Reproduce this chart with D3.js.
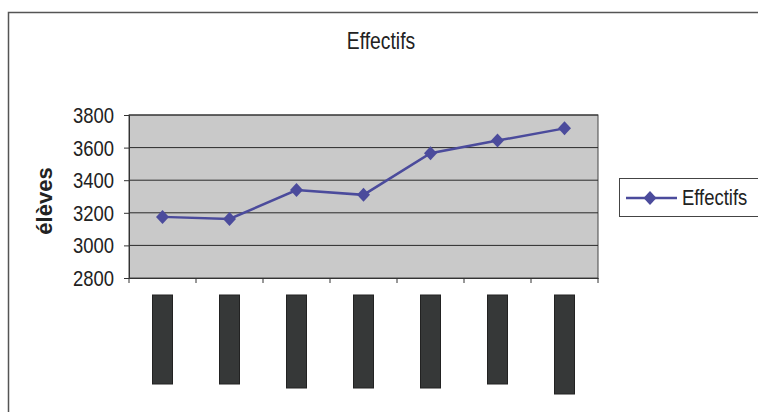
<!DOCTYPE html>
<html><head><meta charset="utf-8">
<script src="https://cdn.jsdelivr.net/npm/d3@7"></script>
<style>body{margin:0;background:#fff}svg{display:block}</style>
</head><body>
<script>
const categories = ["c1","c2","c3","c4","c5","c6","c7"];
const values = [3175, 3162, 3340, 3310, 3565, 3643, 3718];
const yTicks = [2800, 3000, 3200, 3400, 3600, 3800];
const seriesName = "Effectifs";
const titleText = "Effectifs";
const yLabel = "élèves";

const W = 758, H = 412;
const svg = d3.select("body").append("svg").attr("width", W).attr("height", H);
const font = "'Liberation Sans', Arial, sans-serif";
const SX = 0.84; // horizontal squeeze of the scanned lettering

function narrowText(parent, str, px, py, size, anchor) {
  const g = parent.append("g").attr("transform", `translate(${px},${py}) scale(${SX},1)`);
  return g.append("text").text(str).attr("text-anchor", anchor || "start")
    .attr("font-family", font).attr("font-size", size).attr("fill", "#222");
}

// outer chart border
svg.append("rect").attr("x", 8.5).attr("y", 12.5).attr("width", W + 10).attr("height", H + 10)
  .attr("fill", "#fff").attr("stroke", "#555").attr("stroke-width", 1.5);

const plot = {l: 129, t: 115, r: 598, b: 278};
const x = d3.scaleBand().domain(categories).range([plot.l, plot.r]);
const y = d3.scaleLinear().domain([2800, 3800]).range([plot.b, plot.t]);

svg.append("rect").attr("x", plot.l).attr("y", plot.t).attr("width", plot.r - plot.l).attr("height", plot.b - plot.t)
  .attr("fill", "#c9c9c9").attr("stroke", "#444").attr("stroke-width", 1);

// gridlines
svg.append("g").selectAll("line").data(yTicks.slice(1)).join("line")
  .attr("x1", plot.l).attr("x2", plot.r).attr("y1", d => y(d)).attr("y2", d => y(d))
  .attr("stroke", "#2a2a2a").attr("stroke-width", 1);

// y axis
const yAxis = svg.append("g").attr("transform", `translate(${plot.l},0)`)
  .call(d3.axisLeft(y).tickValues(yTicks).tickSize(5).tickFormat(""));
yAxis.select(".domain").attr("stroke", "#333");
yAxis.selectAll(".tick line").attr("stroke", "#333");
const fmt = d3.format("d");
yTicks.forEach(t => narrowText(svg, fmt(t), 114, y(t) + 8, 22, "end"));

// x axis
const xAxis = svg.append("g").attr("transform", `translate(0,${plot.b})`)
  .call(d3.axisBottom(x).tickSize(0).tickFormat(""));
xAxis.select(".domain").attr("stroke", "#333");
svg.append("g").selectAll("line").data(categories.concat(["__end"])).join("line")
  .attr("x1", (d, i) => plot.l + i * x.step()).attr("x2", (d, i) => plot.l + i * x.step())
  .attr("y1", plot.b).attr("y2", plot.b + 5).attr("stroke", "#333");

// category labels (obscured in the reference as dark blocks)
const lab = svg.append("g").selectAll("g").data(categories).join("g")
  .attr("transform", d => `translate(${x(d) + x.bandwidth() / 2},295)`);
lab.append("rect").attr("x", -10).attr("y", 0).attr("width", 20)
  .attr("height", (d, i) => i === 6 ? 99 : (i === 0 || i === 1 || i === 5 ? 89 : 93))
  .attr("fill", "#363838").attr("stroke", "#222");
lab.append("text").text(d => d).attr("transform", "rotate(-90)").attr("x", -45).attr("y", 6)
  .attr("text-anchor", "middle").attr("font-family", font).attr("font-size", 14).attr("fill", "#363838");

// line
const lineColor = "#4b4b9c";
svg.append("path").datum(values)
  .attr("d", d3.line().x((d, i) => x(categories[i]) + x.bandwidth() / 2).y(d => y(d)))
  .attr("fill", "none").attr("stroke", lineColor).attr("stroke-width", 2.5);
const diamond = "M0,-7L6.5,0L0,7L-6.5,0Z";
svg.append("g").selectAll("path").data(values).join("path")
  .attr("d", diamond)
  .attr("transform", (d, i) => `translate(${x(categories[i]) + x.bandwidth() / 2},${y(d)})`)
  .attr("fill", lineColor);

// title
narrowText(svg, titleText, 381, 49, 23, "middle");

// y label
svg.append("text").text(yLabel).attr("transform", "translate(52,201) rotate(-90)")
  .attr("text-anchor", "middle").attr("font-family", font).attr("font-size", 22)
  .attr("font-weight", "bold").attr("fill", "#222");

// legend
const lg = svg.append("g");
lg.append("rect").attr("x", 619.5).attr("y", 178.5).attr("width", 150).attr("height", 38)
  .attr("fill", "#fff").attr("stroke", "#444").attr("stroke-width", 1);
lg.append("line").attr("x1", 626).attr("x2", 677).attr("y1", 198).attr("y2", 198)
  .attr("stroke", lineColor).attr("stroke-width", 2.5);
lg.append("path").attr("d", diamond).attr("transform", "translate(650,198)").attr("fill", lineColor);
narrowText(lg, seriesName, 682, 205, 22, "start");
</script>
</body></html>
